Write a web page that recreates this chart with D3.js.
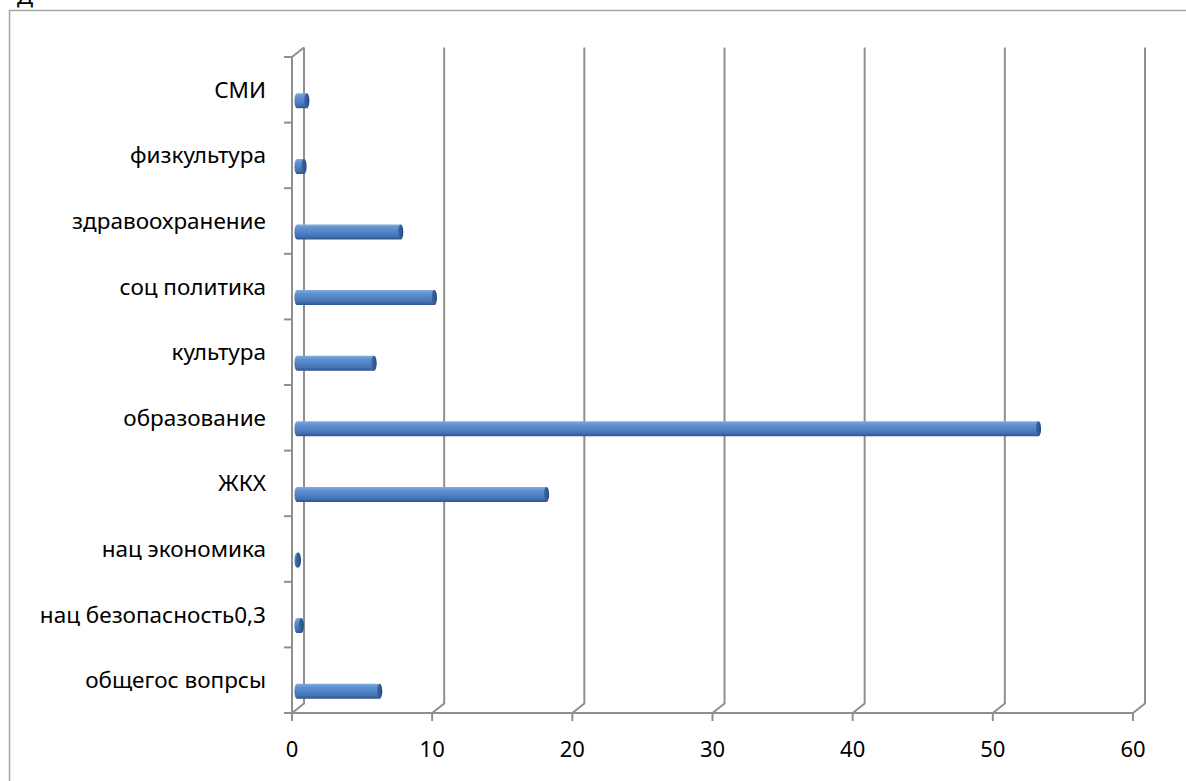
<!DOCTYPE html>
<html>
<head>
<meta charset="utf-8">
<script src="https://cdn.jsdelivr.net/npm/d3@7"></script>
<style>
  html, body { margin: 0; padding: 0; background: #fff; }
  svg { display: block; }
  text { font-family: "Noto Sans", "Open Sans", sans-serif; fill: #000; }
</style>
</head>
<body>
<svg id="chart" width="1186" height="781"></svg>
<script>
// Budget spending by area (percent)
const categories = [
  "общегос вопрсы",
  "нац безопасность0,3",
  "нац экономика",
  "ЖКХ",
  "образование",
  "культура",
  "соц политика",
  "здравоохранение",
  "физкультура",
  "СМИ"
];
const values = [5.9, 0.3, 0.1, 17.8, 52.9, 5.5, 9.8, 7.4, 0.5, 0.7];
const xTicks = [0, 10, 20, 30, 40, 50, 60];

const svg = d3.select("#chart");
const W = 1186, H = 781;

// plot frame (front plane) and depth offset of the back wall
const plotLeft = 292, plotRight = 1133, plotTop = 57, plotBottom = 713;
const depthX = 12, depthY = -9.5;
const grid = "#8f8f8f";

const x = d3.scaleLinear().domain([0, 60]).range([plotLeft, plotRight]);
// top of the chart lists the last category
const y = d3.scaleBand().domain(categories.slice().reverse()).range([plotTop, plotBottom]);

// outer chart frame
svg.append("rect")
  .attr("x", 9.5).attr("y", 10.5)
  .attr("width", W + 20).attr("height", H + 20)
  .attr("fill", "none").attr("stroke", "#a3a3a3").attr("stroke-width", 1.5);

// title glyph peeking above the frame
svg.append("text")
  .attr("x", 17).attr("y", 4)
  .style("font-size", "22px")
  .text("Д");

// gradients for the cylinders
const defs = svg.append("defs");
const body = defs.append("linearGradient").attr("id", "cylBody")
  .attr("x1", 0).attr("y1", 0).attr("x2", 0).attr("y2", 1);
[[0, "#86acdf"], [0.2, "#6393d3"], [0.5, "#5384c6"], [0.8, "#4370b1"], [1, "#2f548c"]]
  .forEach(([o, c]) => body.append("stop").attr("offset", o).attr("stop-color", c));
const cap = defs.append("linearGradient").attr("id", "cylCap")
  .attr("x1", 0).attr("y1", 0).attr("x2", 1).attr("y2", 0);
[[0, "#3d69a8"], [0.6, "#305892"], [1, "#24477c"]]
  .forEach(([o, c]) => cap.append("stop").attr("offset", o).attr("stop-color", c));

const g = svg.append("g");

// back-wall gridlines folding down to the floor axis
g.selectAll("path.grid").data(xTicks).join("path")
  .attr("class", "grid")
  .attr("d", v => `M${x(v)},${plotBottom} L${x(v) + depthX},${plotBottom + depthY} L${x(v) + depthX},${plotTop + depthY}`)
  .attr("fill", "none").attr("stroke", grid).attr("stroke-width", 2);

// front vertical (category) axis with its top fold
g.append("path")
  .attr("d", `M${plotLeft},${plotBottom} L${plotLeft},${plotTop} L${plotLeft + depthX},${plotTop + depthY}`)
  .attr("fill", "none").attr("stroke", grid).attr("stroke-width", 2);

// category axis ticks
const bounds = categories.map((c, i) => plotTop + i * y.step()).concat([plotBottom]);
g.selectAll("line.ctick").data(bounds).join("line")
  .attr("class", "ctick")
  .attr("x1", plotLeft - 8).attr("x2", plotLeft)
  .attr("y1", d => d).attr("y2", d => d)
  .attr("stroke", grid).attr("stroke-width", 2);

// value axis line and ticks
g.append("line")
  .attr("x1", plotLeft - 8).attr("x2", plotRight).attr("y1", plotBottom).attr("y2", plotBottom)
  .attr("stroke", grid).attr("stroke-width", 2);
g.selectAll("line.vtick").data(xTicks).join("line")
  .attr("class", "vtick")
  .attr("x1", d => x(d)).attr("x2", d => x(d))
  .attr("y1", plotBottom).attr("y2", plotBottom + 8)
  .attr("stroke", grid).attr("stroke-width", 2);

// value axis labels
g.selectAll("text.vlab").data(xTicks).join("text")
  .attr("class", "vlab")
  .attr("x", d => x(d)).attr("y", 757)
  .attr("text-anchor", "middle")
  .style("font-size", "22px")
  .text(d => d);

// category labels
g.selectAll("text.clab").data(categories).join("text")
  .attr("class", "clab")
  .attr("x", 266)
  .attr("y", d => y(d) + y.bandwidth() / 2 + 8)
  .attr("text-anchor", "end")
  .style("font-size", "22.5px")
  .text(d => d);

// cylinders
const barH = 15, rx = 2.6, shiftX = 5, shiftY = 11;
const bars = g.selectAll("g.bar").data(categories.map((c, i) => ({ c, v: values[i] })))
  .join("g").attr("class", "bar");

bars.append("path")
  .attr("d", d => {
    const x0 = x(0) + shiftX, x1 = x(d.v) + shiftX;
    const yc = y(d.c) + y.bandwidth() / 2 + shiftY;
    const y0 = yc - barH / 2, y1 = yc + barH / 2;
    return `M${x1},${y0} L${x0},${y0} A${rx},${barH / 2} 0 0 0 ${x0},${y1} L${x1},${y1} Z`;
  })
  .attr("fill", "url(#cylBody)");

bars.append("ellipse")
  .attr("cx", d => x(d.v) + shiftX)
  .attr("cy", d => y(d.c) + y.bandwidth() / 2 + shiftY)
  .attr("rx", rx).attr("ry", barH / 2)
  .attr("fill", "url(#cylCap)");
</script>
</body>
</html>
